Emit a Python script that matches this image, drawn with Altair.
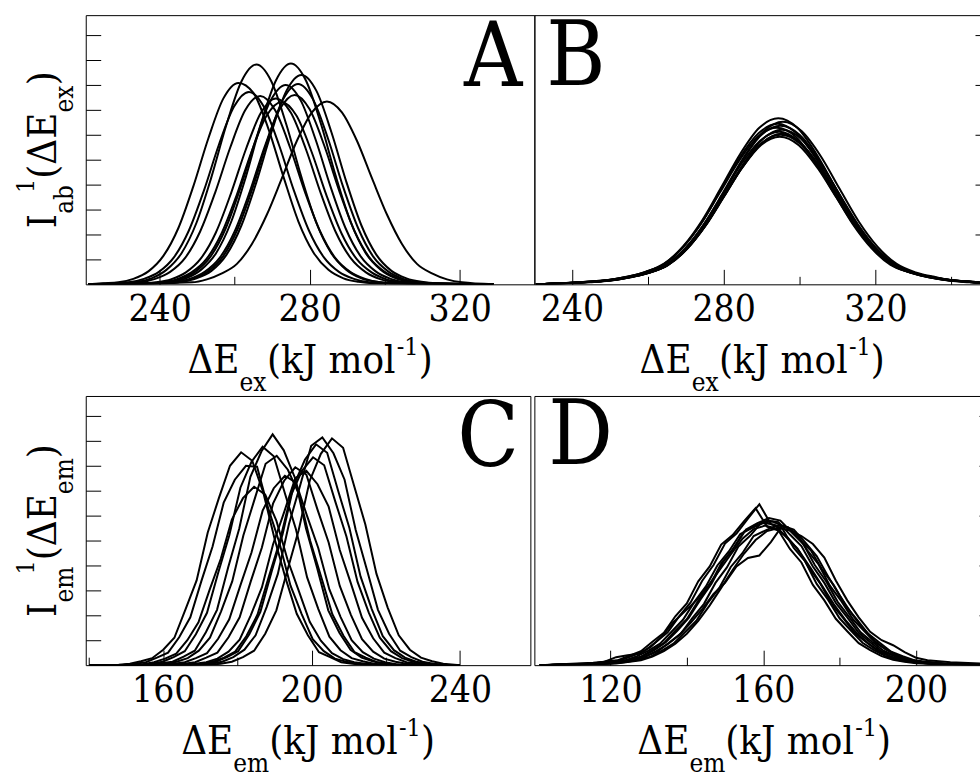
import altair as alt
import pandas as pd

FONT = "DejaVu Serif Condensed"

# ---------------- data (y in units of 1e-3, arbitrary intensity) ----------------
# Panel A : I_ab(dE_ex), individual conformations
A_X_DOMAIN = [220.3, 339.9]
A_X_ENDS = [221.0, 329.0]
A_MAJOR = [240, 280, 320]
A_MINOR = [260, 300]
A_OFFSETS = [-36, -32, -28, -24, -20, -16, -12, -8, -4, 0, 4, 8, 12, 16, 20, 24, 28, 32, 36]
A_CENTERS = [261.0, 263.8, 265.8, 266.8, 271.0, 272.5, 273.6, 275.0, 276.0, 276.9, 277.8, 284.6]
A_CURVES = [
    [0.2, 0.4, 1.1, 2.6, 5.7, 11.3, 19.7, 29.3, 37.3, 40.4, 38.4, 31.2, 21.6, 12.6, 6.4, 2.9, 1.2, 0.5, 0.2],
    [0.2, 0.4, 1.1, 2.5, 5.4, 10.8, 18.8, 28.0, 35.6, 38.6, 35.6, 28.0, 18.8, 10.8, 5.4, 2.5, 1.1, 0.4, 0.2],
    [0.2, 0.5, 1.2, 2.9, 6.2, 12.3, 21.5, 32.0, 40.7, 44.1, 40.7, 32.0, 21.5, 12.3, 6.2, 2.9, 1.2, 0.5, 0.2],
    [0.2, 0.4, 1.1, 2.5, 5.3, 10.6, 18.4, 27.4, 34.9, 37.8, 34.9, 27.4, 18.4, 10.6, 5.3, 2.5, 1.1, 0.4, 0.2],
    [0.1, 0.4, 1.0, 2.4, 5.2, 10.4, 18.2, 27.1, 34.4, 37.3, 34.4, 27.1, 18.2, 10.4, 5.2, 2.4, 1.0, 0.4, 0.1],
    [0.1, 0.4, 1.0, 2.4, 5.1, 10.2, 17.8, 26.6, 33.8, 36.6, 33.8, 26.6, 17.8, 10.2, 5.1, 2.4, 1.0, 0.4, 0.1],
    [0.2, 0.4, 1.1, 2.6, 5.6, 11.2, 19.5, 29.0, 36.9, 40.0, 36.9, 29.0, 19.5, 11.2, 5.6, 2.6, 1.1, 0.4, 0.2],
    [0.2, 0.5, 1.2, 2.9, 6.2, 12.4, 21.6, 32.2, 40.9, 44.3, 40.9, 32.2, 21.6, 12.4, 6.2, 2.9, 1.2, 0.5, 0.2],
    [0.2, 0.4, 1.1, 2.5, 5.3, 10.6, 18.5, 27.6, 35.1, 38.0, 35.1, 27.6, 18.5, 10.6, 5.3, 2.5, 1.1, 0.4, 0.2],
    [0.2, 0.4, 1.1, 2.6, 5.6, 11.3, 19.6, 29.2, 37.1, 40.2, 37.1, 29.2, 19.6, 11.3, 5.6, 2.6, 1.1, 0.4, 0.2],
    [0.2, 0.5, 1.2, 2.7, 5.9, 11.8, 20.5, 30.5, 38.8, 42.0, 38.8, 30.5, 20.5, 11.8, 5.9, 2.7, 1.2, 0.5, 0.2],
    [0.4, 1.0, 2.2, 4.1, 8.1, 14.0, 21.3, 28.8, 34.5, 36.7, 34.5, 28.8, 21.3, 14.0, 8.1, 4.1, 2.2, 1.0, 0.4],
]

# Panel B : I_ab(dE_ex), averaged
B_X_DOMAIN = [230.1, 350.2]
B_X_ENDS = [230.5, 352.0]
B_MAJOR = [240, 280, 320]
B_MINOR = [260, 300, 340]
B_OFFSETS = [-50, -45, -40, -35, -30, -25, -20, -15, -10, -5, 0, 5, 10, 15, 20, 25, 30, 35, 40, 45, 50]
B_CENTERS = [294.4, 295.6, 294.2, 295.0, 294.0, 295.4, 294.6, 295.2, 294.8, 295.0]
B_CURVES = [
    [0.5, 0.8, 1.5, 2.5, 4.2, 7.7, 12.9, 19.5, 26.2, 31.4, 33.3, 31.4, 26.2, 19.5, 12.9, 7.7, 4.2, 2.5, 1.5, 0.8, 0.5],
    [0.5, 0.8, 1.5, 2.4, 4.1, 7.5, 12.6, 19.1, 25.7, 30.7, 32.6, 30.7, 25.7, 19.1, 12.6, 7.5, 4.1, 2.4, 1.5, 0.8, 0.5],
    [0.5, 0.8, 1.4, 2.4, 4.0, 7.4, 12.4, 18.9, 25.4, 30.3, 32.2, 30.3, 25.4, 18.9, 12.4, 7.4, 4.0, 2.4, 1.4, 0.8, 0.5],
    [0.5, 0.8, 1.4, 2.4, 4.0, 7.3, 12.3, 18.6, 25.1, 30.0, 31.8, 30.0, 25.1, 18.6, 12.3, 7.3, 4.0, 2.4, 1.4, 0.8, 0.5],
    [0.5, 0.8, 1.4, 2.4, 3.9, 7.2, 12.1, 18.4, 24.7, 29.6, 31.4, 29.6, 24.7, 18.4, 12.1, 7.2, 3.9, 2.4, 1.4, 0.8, 0.5],
    [0.5, 0.8, 1.4, 2.3, 3.9, 7.1, 12.0, 18.2, 24.4, 29.2, 31.0, 29.2, 24.4, 18.2, 12.0, 7.1, 3.9, 2.3, 1.4, 0.8, 0.5],
    [0.5, 0.8, 1.4, 2.3, 3.8, 7.0, 11.8, 17.9, 24.1, 28.8, 30.6, 28.8, 24.1, 17.9, 11.8, 7.0, 3.8, 2.3, 1.4, 0.8, 0.5],
    [0.5, 0.8, 1.4, 2.3, 3.8, 7.0, 11.7, 17.7, 23.8, 28.4, 30.2, 28.4, 23.8, 17.7, 11.7, 7.0, 3.8, 2.3, 1.4, 0.8, 0.5],
    [0.4, 0.7, 1.3, 2.2, 3.7, 6.8, 11.4, 17.3, 23.3, 27.9, 29.6, 27.9, 23.3, 17.3, 11.4, 6.8, 3.7, 2.2, 1.3, 0.7, 0.4],
    [0.5, 0.8, 1.4, 2.3, 3.8, 6.9, 11.6, 17.6, 23.6, 28.3, 30.0, 28.3, 23.6, 17.6, 11.6, 6.9, 3.8, 2.3, 1.4, 0.8, 0.5],
]

# Panel C : I_em(dE_em), individual conformations
C_X_DOMAIN = [139.1, 259.0]
C_X_ENDS = [140.0, 240.0]
C_MAJOR = [160, 200, 240]
C_MINOR = [140, 180, 220]
C_OFFSETS = [-33, -30, -27, -24, -21, -18, -15, -12, -9, -6, -3, 0, 3, 6, 9, 12, 15, 18, 21, 24, 27, 30, 33]
C_CENTERS = [181.0, 182.3, 184.5, 186.8, 189.5, 190.6, 192.8, 195.6, 198.6, 200.4, 201.2, 202.9, 205.5]
C_CURVES = [
    [0.1, 0.3, 0.8, 1.4, 3.1, 5.5, 11.2, 17.0, 26.6, 33.5, 40.0, 42.7, 41.0, 34.6, 25.4, 17.4, 10.3, 6.0, 2.6, 1.6, 0.6, 0.3, 0.1],
    [0.1, 0.3, 0.6, 1.5, 2.5, 5.6, 9.6, 16.9, 23.8, 32.6, 37.2, 40.0, 39.8, 31.5, 24.6, 16.0, 10.3, 5.2, 2.8, 1.3, 0.7, 0.3, 0.1],
    [0.1, 0.2, 0.6, 1.3, 2.3, 5.0, 8.6, 15.1, 21.3, 29.2, 33.5, 35.8, 34.2, 29.0, 21.2, 15.0, 8.7, 4.9, 2.4, 1.2, 0.6, 0.3, 0.1],
    [0.1, 0.3, 0.7, 1.6, 2.8, 6.2, 10.5, 18.5, 26.0, 35.6, 40.8, 43.8, 41.9, 34.5, 27.2, 17.6, 11.3, 5.7, 3.0, 1.4, 0.8, 0.3, 0.1],
    [0.1, 0.4, 0.7, 1.7, 2.9, 6.6, 11.1, 19.6, 27.4, 37.8, 42.9, 46.3, 43.1, 37.6, 27.4, 19.5, 11.0, 6.5, 3.1, 1.5, 0.8, 0.3, 0.1],
    [0.1, 0.3, 0.7, 1.4, 2.9, 5.5, 10.8, 16.8, 26.0, 33.2, 40.4, 42.0, 39.2, 34.3, 25.0, 17.7, 10.2, 5.9, 2.6, 1.5, 0.6, 0.3, 0.1],
    [0.1, 0.3, 0.6, 1.4, 2.4, 5.3, 9.2, 16.0, 22.6, 31.0, 35.5, 38.0, 36.6, 29.9, 23.5, 15.2, 9.7, 5.0, 2.6, 1.3, 0.6, 0.2, 0.1],
    [0.1, 0.3, 0.6, 1.5, 2.5, 5.6, 9.6, 16.8, 23.6, 32.4, 37.0, 39.7, 38.2, 31.2, 24.6, 15.9, 10.1, 5.2, 2.7, 1.3, 0.7, 0.3, 0.1],
    [0.1, 0.3, 0.6, 1.3, 2.7, 5.1, 10.0, 15.6, 24.2, 30.7, 37.5, 39.0, 36.3, 31.8, 23.1, 16.4, 9.5, 5.4, 2.5, 1.4, 0.6, 0.3, 0.1],
    [0.1, 0.3, 0.7, 1.5, 2.7, 5.8, 10.1, 17.6, 24.8, 34.0, 39.0, 41.7, 40.1, 32.8, 25.8, 16.7, 10.6, 5.5, 2.8, 1.4, 0.7, 0.3, 0.1],
    [0.1, 0.3, 0.7, 1.6, 2.8, 6.2, 10.7, 18.7, 26.3, 36.1, 41.2, 44.3, 42.6, 34.9, 27.5, 17.8, 11.3, 5.8, 3.0, 1.5, 0.7, 0.3, 0.1],
    [0.1, 0.3, 0.7, 1.6, 3.1, 6.0, 11.7, 18.3, 28.3, 36.0, 44.0, 45.7, 42.5, 37.2, 27.1, 19.2, 11.1, 6.3, 2.9, 1.6, 0.7, 0.3, 0.1],
    [0.1, 0.3, 0.7, 1.6, 2.9, 6.3, 11.0, 19.1, 27.0, 37.0, 42.4, 45.5, 43.6, 35.9, 28.2, 18.3, 11.6, 6.0, 3.1, 1.5, 0.8, 0.3, 0.1],
]

# Panel D : I_em(dE_em), averaged
D_X_DOMAIN = [100.1, 220.4]
D_X_ENDS = [101.5, 225.0]
D_MAJOR = [120, 160, 200]
D_MINOR = [140, 180]
D_OFFSETS = [-45, -42, -39, -36, -33, -30, -27, -24, -21, -18, -15, -12, -9, -6, -3, 0,
             3, 6, 9, 12, 15, 18, 21, 24, 27, 30, 33, 36, 39, 42, 45]
D_CENTERS = [159.0, 158.0, 161.0, 162.5, 160.0, 163.5, 161.5, 164.0, 162.0, 160.5]
D_CURVES = [
    [0.3, 0.5, 0.7, 1.1, 1.9, 2.9, 4.7, 6.6, 9.8, 12.6, 16.9, 20.1, 24.4, 26.4, 29.4, 32.3,
     28.3, 27.4, 23.5, 20.8, 16.3, 13.1, 9.4, 6.9, 4.5, 3.0, 1.8, 1.1, 0.7, 0.5, 0.3],
    [0.3, 0.4, 0.8, 1.0, 1.9, 2.8, 4.7, 6.5, 9.8, 12.4, 16.8, 19.8, 24.2, 26.1, 28.9, 31.5,
     27.8, 27.0, 23.3, 20.6, 16.1, 13.0, 9.3, 6.8, 4.4, 3.0, 1.8, 1.1, 0.7, 0.4, 0.3],
    [0.3, 0.5, 0.7, 1.1, 1.7, 3.0, 4.4, 6.9, 9.2, 12.9, 16.0, 20.4, 23.2, 26.8, 28.0, 29.0,
     28.7, 26.2, 23.9, 19.8, 16.5, 12.5, 9.6, 6.5, 4.6, 2.8, 1.9, 1.0, 0.8, 0.4, 0.3],
    [0.3, 0.4, 0.7, 1.0, 1.8, 2.8, 4.6, 6.4, 9.5, 12.3, 16.5, 19.6, 23.8, 25.9, 28.6, 28.8,
     27.8, 26.6, 23.1, 20.2, 15.9, 12.8, 9.2, 6.8, 4.4, 3.0, 1.7, 1.1, 0.7, 0.5, 0.3],
    [0.3, 0.5, 0.7, 1.0, 1.8, 2.9, 4.3, 6.7, 9.1, 12.7, 15.8, 20.0, 22.8, 26.3, 27.5, 28.5,
     28.2, 25.7, 23.4, 19.5, 16.3, 12.2, 9.4, 6.4, 4.6, 2.8, 1.8, 1.0, 0.7, 0.5, 0.3],
    [0.3, 0.4, 0.7, 1.1, 1.7, 2.9, 4.3, 6.6, 8.9, 12.5, 15.5, 19.7, 22.4, 25.9, 27.0, 28.0,
     27.7, 25.2, 23.0, 19.1, 16.0, 12.0, 9.2, 6.3, 4.5, 2.7, 1.8, 1.0, 0.7, 0.5, 0.3],
    [0.3, 0.5, 0.7, 1.1, 1.8, 3.0, 4.6, 6.9, 9.5, 13.1, 16.4, 20.7, 23.7, 27.2, 28.5, 29.5,
     29.0, 26.6, 24.3, 20.1, 16.8, 12.7, 9.7, 6.6, 4.7, 2.9, 1.9, 1.0, 0.8, 0.4, 0.3],
    [0.3, 0.4, 0.7, 1.0, 1.7, 2.8, 4.3, 6.3, 8.9, 12.0, 15.5, 19.1, 22.4, 25.1, 26.9, 27.5,
     27.0, 25.9, 24.3, 21.6, 17.0, 13.0, 9.6, 6.7, 5.0, 4.0, 2.6, 1.5, 1.0, 0.8, 0.6],
    [0.3, 0.4, 0.7, 1.0, 1.7, 2.8, 4.2, 6.0, 8.5, 11.2, 14.3, 16.5, 19.8, 21.5, 22.0, 24.7,
     28.0, 27.2, 24.6, 21.9, 17.8, 14.0, 10.5, 7.5, 5.0, 3.2, 2.0, 1.2, 0.7, 0.5, 0.3],
    [0.5, 0.7, 1.6, 2.0, 2.3, 3.6, 5.8, 8.6, 10.8, 13.0, 15.8, 19.0, 22.2, 25.3, 27.3, 28.0,
     27.4, 25.5, 22.8, 19.4, 15.8, 12.2, 9.1, 6.4, 4.4, 2.8, 1.7, 1.0, 0.7, 0.4, 0.3],
]

Y_DOMAIN = [0, 54]
Y_TICKS_LEFT = [5, 10, 15, 20, 25, 30, 35, 40, 45, 50]
Y_TICKS_RIGHT = [10, 20, 30, 40, 50]

# ---------------- helpers ----------------
# approximate advance widths (em) of DejaVu Serif; the condensed face is ~90 % as wide
ADV = {"Δ": 0.722, "E": 0.730, "e": 0.592, "x": 0.584, "m": 0.948, "(": 0.390, "k": 0.630,
       "J": 0.408, " ": 0.318, "o": 0.602, "l": 0.320, ")": 0.390, "-": 0.339, "1": 0.636,
       "I": 0.402, "a": 0.596, "b": 0.640}
CONDENSE = 0.9
MAIN, SUB, SUP = 40, 26, 25


def adv(s, size):
    return sum(ADV[c] for c in s) * size * CONDENSE


def build_df(centers, offsets, curves, ends):
    rows = []
    for i, (c, vals) in enumerate(zip(centers, curves)):
        rows.append((i, ends[0], 0.0))
        for d, v in zip(offsets, vals):
            rows.append((i, c + d, v))
        rows.append((i, ends[1], 0.0))
    return pd.DataFrame(rows, columns=["curve", "x", "y"])


def text_layer(s, x, y, size, angle=0, align="left", font=FONT):
    return alt.Chart(pd.DataFrame({"t": [s]})).mark_text(
        font=font, fontSize=size, align=align, baseline="alphabetic",
        angle=angle, color="black"
    ).encode(x=alt.value(x), y=alt.value(y), text="t:N")


def xtitle(sub, cx, base):
    pieces = [("ΔE", MAIN, 0), (sub, SUB, 18), ("(kJ mol", MAIN, 0), ("-1", SUP, -18), (")", MAIN, 0)]
    total = sum(adv(t, s) for t, s, _ in pieces)
    x = cx - total / 2
    out = []
    for t, s, dy in pieces:
        out.append(text_layer(t, x, base + dy, s))
        x += adv(t, s)
    return out


def ytitle(sub1, sub2, cy, base):
    pieces = [("I", MAIN, 0, 0), (sub1, SUB, 17, 0), ("1", SUP, -22, -8),
              ("(ΔE", MAIN, 0, 0), (sub2, SUB, 17, 0), (")", MAIN, 0, 0)]
    total = sum(adv(t, s) + back for t, s, _, back in pieces)
    start = cy + total / 2
    pos = 0.0
    out = []
    for t, s, dx, back in pieces:
        pos += back
        out.append(text_layer(t, base + dx, start - pos, s, angle=270))
        pos += adv(t, s)
    return out


def panel(df, xdom, width, major, minor, yside, yticks, letter, lx, ly, lalign,
          sub, interp, ysubs=None, extra=None):
    H = 270
    xscale = alt.Scale(domain=xdom, nice=False, zero=False)
    yscale = alt.Scale(domain=Y_DOMAIN, nice=False)
    major_axis = alt.Axis(orient="bottom", values=major, offset=-15, tickSize=15,
                          tickColor="black", tickWidth=1, labelPadding=36,
                          labelBaseline="alphabetic", labelFont=FONT, labelFontSize=37,
                          labelColor="black", labelFlush=False, labelOverlap=False,
                          domain=False, grid=False, title=None)
    minor_axis = alt.Axis(orient="bottom", values=minor, offset=-8, tickSize=8,
                          tickColor="black", tickWidth=1, labels=False,
                          domain=False, grid=False, title=None)
    y_axis = alt.Axis(orient=yside, values=yticks, offset=-15, tickSize=15,
                      tickColor="black", tickWidth=1, labels=False,
                      domain=False, grid=False, title=None)
    lines = alt.Chart(df).mark_line(color="black", strokeWidth=2, clip=True,
                                    interpolate=interp).encode(
        x=alt.X("x:Q", scale=xscale, axis=major_axis),
        y=alt.Y("y:Q", scale=yscale, axis=y_axis),
        detail="curve:N",
    )
    minor_layer = alt.Chart(pd.DataFrame({"v": minor})).mark_point(opacity=0).encode(
        x=alt.X("v:Q", scale=xscale, axis=minor_axis)
    )
    layers = [lines, minor_layer]
    layers.append(text_layer(letter, lx, ly, 90, align=lalign))
    layers += xtitle(sub, width / 2, H + 89)
    if ysubs is not None:
        layers += ytitle(ysubs[0], ysubs[1], H / 2, -30)
    if extra is not None:
        layers.append(extra)
    return alt.layer(*layers).resolve_axis(x="independent").properties(width=width, height=H)


# invisible frame that fixes the page extent (980 x 776 with plot A at 85,13)
frame = alt.Chart(pd.DataFrame({"a": [0]})).mark_rect(opacity=0, fillOpacity=0).encode(
    x=alt.value(-85), x2=alt.value(910), y=alt.value(-13), y2=alt.value(767)
)

dfA = build_df(A_CENTERS, A_OFFSETS, A_CURVES, A_X_ENDS)
dfB = build_df(B_CENTERS, B_OFFSETS, B_CURVES, B_X_ENDS)
dfC = build_df(C_CENTERS, C_OFFSETS, C_CURVES, C_X_ENDS)
dfD = build_df(D_CENTERS, D_OFFSETS, D_CURVES, D_X_ENDS)

pa = panel(dfA, A_X_DOMAIN, 450, A_MAJOR, A_MINOR, "left", Y_TICKS_LEFT,
           "A", 438, 71.5, "right", "ex", "monotone", ysubs=("ab", "ex"), extra=frame)
pb = panel(dfB, B_X_DOMAIN, 457, B_MAJOR, B_MINOR, "right", Y_TICKS_RIGHT,
           "B", 12, 70.5, "left", "ex", "monotone")
pc = panel(dfC, C_X_DOMAIN, 446, C_MAJOR, C_MINOR, "left", Y_TICKS_LEFT,
           "C", 434.5, 70, "right", "em", "linear", ysubs=("em", "em"))
pd_ = panel(dfD, D_X_DOMAIN, 461, D_MAJOR, D_MINOR, "right", Y_TICKS_RIGHT,
            "D", 14, 68.5, "left", "em", "linear")

chart = alt.concat(
    pa, pb, pc, pd_,
    columns=2, spacing={"row": 112, "column": 0}, bounds="flush", align="none",
).properties(
    padding={"left": 0, "top": 0, "right": -15, "bottom": -4}
).configure_view(stroke="black", strokeWidth=1)

chart.save("out.html", embed_options={"renderer": "svg", "actions": False})
